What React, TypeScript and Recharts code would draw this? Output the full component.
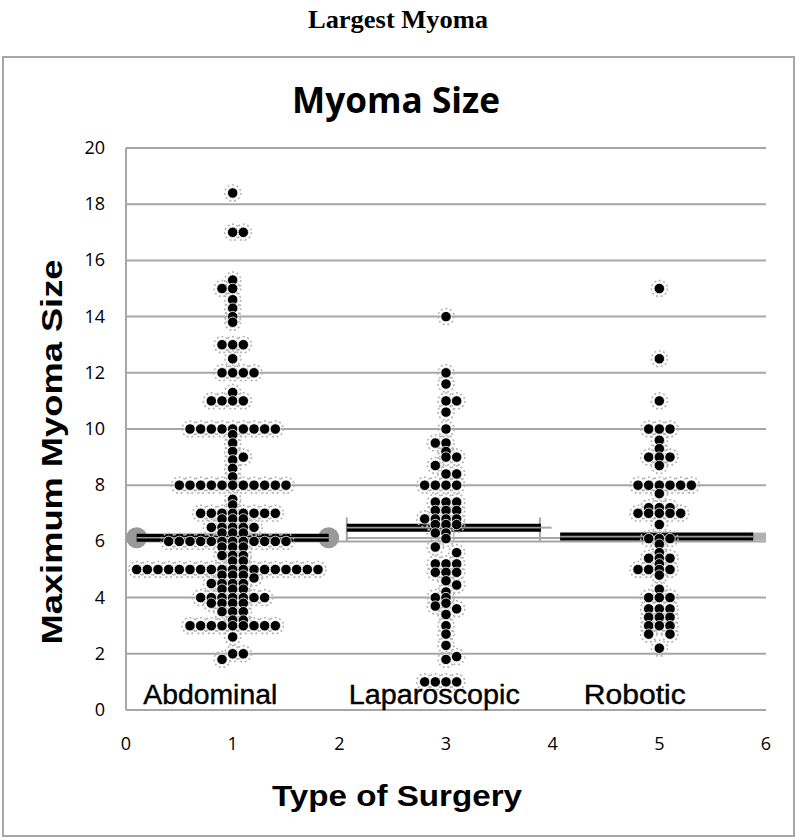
import { ScatterChart, Scatter, XAxis, YAxis, CartesianGrid } from 'recharts';

// rows: [size, x positions of the dots on that row]
const abdominalRows: [number, number[]][] = [
  [18.4, [1.0]],
  [17, [1.0, 1.1]],
  [15.3, [1.0]],
  [15, [0.9, 1.0]],
  [14.6, [1.0]], [14.3, [1.0]], [14.0, [1.0]], [13.8, [1.0]],
  [13, [0.9, 1.0, 1.1]],
  [12.5, [1.0]],
  [12, [0.9, 1.0, 1.1, 1.2]],
  [11.3, [1.0]],
  [11, [0.8, 0.9, 1.0, 1.1]],
  [10, [0.6, 0.7, 0.8, 0.9, 1.0, 1.1, 1.2, 1.3, 1.4]],
  [9.8, [1.0]], [9.5, [1.0]], [9.2, [1.0]], [9, [1.1]], [8.9, [1.0]], [8.6, [1.0]], [8.3, [1.0]],
  [8, [0.5, 0.6, 0.7, 0.8, 0.9, 1.0, 1.1, 1.2, 1.3, 1.4, 1.5]],
  [7.5, [1.0]], [7.3, [1.0]],
  [7, [0.7, 0.8, 0.9, 1.0, 1.1, 1.2, 1.3, 1.4]],
  [6.8, [0.9, 1.0, 1.1]],
  [6.5, [0.8, 0.9, 1.0, 1.1, 1.2]],
  [6.3, [0.9, 1.0, 1.1]],
  [6, [0.4, 0.5, 0.6, 0.7, 0.8, 0.9, 1.0, 1.1, 1.2, 1.3, 1.4, 1.5]],
  [5.8, [0.9, 1.0, 1.1]], [5.5, [0.9, 1.0, 1.1]], [5.3, [1.0, 1.1]],
  [5, [0.1, 0.2, 0.3, 0.4, 0.5, 0.6, 0.7, 0.8, 0.9, 1.0, 1.1, 1.2, 1.3, 1.4, 1.5, 1.6, 1.7, 1.8]],
  [4.8, [0.9, 1.0, 1.1]],
  [4.7, [1.2]],
  [4.5, [0.8, 0.9, 1.0, 1.1]],
  [4.3, [0.9, 1.0, 1.1]],
  [4, [0.7, 0.8, 0.9, 1.0, 1.1, 1.2, 1.3]],
  [3.8, [0.8, 0.9, 1.0, 1.1]],
  [3.5, [0.9, 1.0, 1.1]],
  [3.2, [1.0, 1.1]],
  [3, [0.6, 0.7, 0.8, 0.9, 1.0, 1.1, 1.2, 1.3, 1.4]],
  [2.6, [1.0]],
  [2, [1.0, 1.1]],
  [1.8, [0.9]],
];

const laparoscopicRows: [number, number[]][] = [
  [14, [3.0]],
  [12, [3.0]],
  [11.6, [3.0]],
  [11, [3.0, 3.1]],
  [10.6, [3.0]],
  [10, [3.0]],
  [9.5, [2.9, 3.0]],
  [9.2, [3.0]],
  [9, [3.0, 3.1]],
  [8.7, [2.9]],
  [8.4, [3.0, 3.1]],
  [8, [2.8, 2.9, 3.0, 3.1]],
  [7.4, [2.9, 3.0, 3.1]],
  [7.1, [2.9, 3.0, 3.1]],
  [6.8, [2.8, 2.9, 3.0, 3.1]],
  [6.6, [2.9, 3.0, 3.1]],
  [6.3, [2.9, 3.0]],
  [6.1, [3.0]],
  [5.8, [2.9]],
  [5.6, [3.1]],
  [5.2, [2.9, 3.0, 3.1]],
  [4.9, [2.9, 3.0, 3.1]],
  [4.6, [3.0]],
  [4.45, [3.1]],
  [4.2, [3.0]],
  [4.0, [2.9, 3.0]],
  [3.8, [3.0]],
  [3.7, [2.9]],
  [3.6, [3.1]],
  [3.4, [3.0]],
  [3.0, [3.0]],
  [2.7, [3.0]],
  [2.3, [3.0]],
  [1.9, [3.1]],
  [1.8, [3.0]],
  [1, [2.8, 2.9, 3.0, 3.1]],
];

const roboticRows: [number, number[]][] = [
  [15, [5.0]],
  [12.5, [5.0]],
  [11, [5.0]],
  [10, [4.9, 5.0, 5.1]],
  [9.6, [5.0]], [9.3, [5.0]],
  [9, [4.9, 5.0, 5.1]],
  [8.7, [5.0]],
  [8, [4.8, 4.9, 5.0, 5.1, 5.2, 5.3]],
  [7.7, [5.0]],
  [7.2, [4.9, 5.0, 5.1]],
  [7, [4.8, 4.9, 5.0, 5.1, 5.2]],
  [6.6, [5.0]],
  [6.1, [4.9, 5.0, 5.1]],
  [5.9, [5.0]], [5.6, [5.0]],
  [5.4, [4.9, 5.0, 5.1]],
  [5.2, [5.0]],
  [5, [4.8, 4.9, 5.0, 5.1]],
  [4.8, [5.0]],
  [4.3, [5.0]],
  [4, [4.9, 5.0, 5.1]],
  [3.6, [4.9, 5.0, 5.1]],
  [3.3, [4.9, 5.0, 5.1]],
  [3.0, [4.9, 5.0, 5.1]],
  [2.7, [4.9, 5.1]],
  [2.2, [5.0]],
];

// mean bars: [from x, to x, size]
const meanBars: [number, number, number][] = [
  [0.1, 1.9, 6.13],
  [2.07, 3.89, 6.49],
  [4.07, 5.88, 6.17],
];

const groupLabels = [
  { x: 0.79, y: 0.2, name: 'Abdominal', len: 134 },
  { x: 2.89, y: 0.2, name: 'Laparoscopic', len: 171 },
  { x: 4.77, y: 0.2, name: 'Robotic', len: 102 },
];

const xTicks = [0, 1, 2, 3, 4, 5, 6];
const yTicks = [0, 2, 4, 6, 8, 10, 12, 14, 16, 18, 20];

const toPoints = (rows: [number, number[]][]) =>
  rows.flatMap(([y, xs]) => xs.map((x) => ({ x, y })));

const allPoints = [
  ...toPoints(abdominalRows),
  ...toPoints(laparoscopicRows),
  ...toPoints(roboticRows),
];

const endCircles = [
  { x: 0.1, y: 6.13 },
  { x: 1.9, y: 6.13 },
];

const Empty = () => <g />;

const Halo = (props: any) => (
  <circle cx={props.cx} cy={props.cy} r={8} fill="none" stroke="#b4b4b4" strokeWidth={1.6} strokeDasharray="2 2.6" />
);

const Dot = (props: any) => (
  <circle cx={props.cx} cy={props.cy} r={5.2} fill="#000" stroke="#fff" strokeWidth={0.8} />
);

const GrayCircle = (props: any) => <circle cx={props.cx} cy={props.cy} r={10.5} fill="#999" />;

const GroupLabel = (props: any) => (
  <text
    x={props.cx}
    y={props.cy}
    textAnchor="middle"
    fontFamily="'Liberation Sans', Arial, sans-serif"
    fontSize={27}
    textLength={props.payload.len}
    lengthAdjust="spacingAndGlyphs"
    fill="#000"
    stroke="#000"
    strokeWidth={0.4}
  >
    {props.payload.name}
  </text>
);

const AxisTick = (props: any) => {
  const { x, y, payload, textAnchor } = props;
  return (
    <text
      x={x}
      y={y}
      dy={textAnchor === 'end' ? 6 : 12}
      textAnchor={textAnchor}
      fontFamily="'Open Sans', sans-serif"
      fontSize={18}
      fill="#000"
    >
      {payload.value}
    </text>
  );
};

const seg = (key: string, a: { x: number; y: number }, b: { x: number; y: number }, stroke: string, width: number) => (
  <Scatter
    key={key}
    data={[a, b]}
    line={{ stroke, strokeWidth: width }}
    lineType="joint"
    shape={Empty}
    isAnimationActive={false}
  />
);

export default function App() {
  return (
    <div style={{ position: 'absolute', left: 0, top: 0, width: 796, height: 838, background: '#fff' }}>
      <div
        style={{
          position: 'absolute',
          left: 2,
          top: 56,
          width: 789,
          height: 777,
          border: '2px solid #a6a6a6',
        }}
      />
      <div style={{ position: 'absolute', left: 0, top: 0 }}>
        <ScatterChart width={796} height={838} margin={{ top: 148, right: 30, bottom: 98, left: 0 }}>
          <CartesianGrid horizontal vertical={false} stroke="#a6a6a6" strokeWidth={2} />
          <XAxis
            type="number"
            dataKey="x"
            domain={[0, 6]}
            ticks={xTicks}
            height={30}
            tickLine={false}
            tickSize={0}
            tickMargin={28}
            axisLine={{ stroke: '#a6a6a6', strokeWidth: 2 }}
            tick={<AxisTick />}
          />
          <YAxis
            type="number"
            dataKey="y"
            domain={[0, 20]}
            ticks={yTicks}
            width={126}
            tickLine={false}
            tickSize={0}
            tickMargin={21}
            axisLine={{ stroke: '#a6a6a6', strokeWidth: 2 }}
            tick={<AxisTick />}
          />
          {/* laparoscopic error bracket */}
          {seg('lg1', { x: 2.07, y: 6.12 }, { x: 4.25, y: 6.12 }, '#a6a6a6', 2)}
          {seg('lg2', { x: 2.07, y: 6.0 }, { x: 2.07, y: 6.85 }, '#a6a6a6', 2)}
          {seg('lg3', { x: 3.88, y: 6.0 }, { x: 3.88, y: 6.85 }, '#a6a6a6', 2)}
          {seg('lg4', { x: 3.85, y: 6.49 }, { x: 3.99, y: 6.49 }, '#a6a6a6', 2)}
          {seg('rg1', { x: 5.85, y: 6.17 }, { x: 6.0, y: 6.17 }, '#b0b0b0', 8)}
          <Scatter data={endCircles} shape={GrayCircle} isAnimationActive={false} />
          {meanBars.map(([x1, x2, y], i) => seg(`mb${i}`, { x: x1, y }, { x: x2, y }, '#000', 8))}
          {meanBars.map(([x1, x2, y], i) => seg(`mw${i}`, { x: x1, y }, { x: x2, y }, '#999', 1.6))}
          <Scatter data={allPoints} shape={Halo} isAnimationActive={false} />
          <Scatter data={allPoints} shape={Dot} isAnimationActive={false} />
          <Scatter data={groupLabels} shape={GroupLabel} isAnimationActive={false} />
        </ScatterChart>
      </div>
      <svg width={796} height={838} style={{ position: 'absolute', left: 0, top: 0, pointerEvents: 'none' }}>
        <text
          x={398}
          y={28}
          textAnchor="middle"
          fontFamily="'Liberation Serif', 'Times New Roman', serif"
          fontWeight="bold"
          fontSize={25}
          textLength={180}
          lengthAdjust="spacingAndGlyphs"
        >
          Largest Myoma
        </text>
        <text
          x={396}
          y={113}
          textAnchor="middle"
          fontFamily="'Open Sans', sans-serif"
          fontWeight="bold"
          fontSize={35}
          textLength={208}
          lengthAdjust="spacingAndGlyphs"
        >
          Myoma Size
        </text>
        <text
          transform="translate(62 452) rotate(-90)"
          textAnchor="middle"
          fontFamily="'Liberation Sans', Arial, sans-serif"
          fontWeight="bold"
          fontSize={30}
          textLength={385}
          lengthAdjust="spacingAndGlyphs"
        >
          Maximum Myoma Size
        </text>
        <text
          x={397}
          y={806}
          textAnchor="middle"
          fontFamily="'Liberation Sans', Arial, sans-serif"
          fontWeight="bold"
          fontSize={30}
          textLength={250}
          lengthAdjust="spacingAndGlyphs"
        >
          Type of Surgery
        </text>
      </svg>
    </div>
  );
}
